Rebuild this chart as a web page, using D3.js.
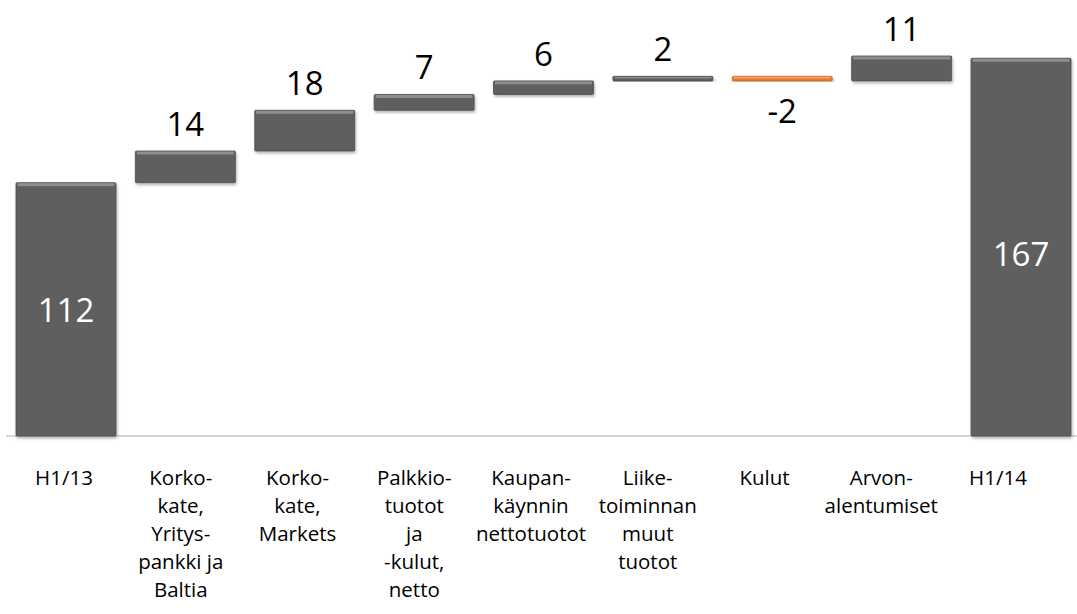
<!DOCTYPE html>
<html>
<head>
<meta charset="utf-8">
<script src="https://cdn.jsdelivr.net/npm/d3@7"></script>
<style>
  body { margin: 0; background: #fff; }
  svg { display: block; font-family: "Open Sans", "DejaVu Sans", sans-serif; }
</style>
</head>
<body>
<div id="chart"></div>
<script>

// categories (label lines), values and kind of each bar
let categories = ["H1/13", "Korko-kate", "Korko-kate-m", "Palkkio", "Kaupan", "Liike", "Kulut", "Arvon", "H1/14"];
let labelLines = [
    ["H1/13"],
    ["Korko-", "kate,", "Yritys-", "pankki ja", "Baltia"],
    ["Korko-", "kate,", "Markets"],
    ["Palkkio-", "tuotot", "ja", "-kulut,", "netto"],
    ["Kaupan-", "käynnin", "nettotuotot"],
    ["Liike-", "toiminnan", "muut", "tuotot"],
    ["Kulut"],
    ["Arvon-", "alentumiset"],
    ["H1/14"]
];
let values = [112, 14, 18, 7, 6, 2, -2, 11, 167];
let kinds = ["total", "delta", "delta", "delta", "delta", "delta", "delta", "delta", "total"];

let width = 1077, height = 614;

let svg = d3.select("#chart")
            .append("svg")
                .attr("width", width)
                .attr("height", height);

let defs = svg.append("defs");
let shadow = defs.append("filter").attr("id", "shadow")
    .attr("x", "-10%").attr("y", "-10%").attr("width", "120%").attr("height", "130%");
shadow.append("feDropShadow")
    .attr("dx", 1).attr("dy", 2).attr("stdDeviation", 1.5)
    .attr("flood-color", "#000").attr("flood-opacity", 0.3);

let x = d3.scaleBand().domain(categories).range([16, 1071]).paddingInner(0.1625).paddingOuter(0);
let xLabel = d3.scalePoint().domain(categories).range([64, 998]);
let y = d3.scaleLinear().domain([0, 168]).range([436, 56]);

// waterfall start / end for each bar
let running = 0;
let bars = values.map((v, i) => {
    let start, end;
    if (kinds[i] === "total") { start = 0; end = v; running = v; }
    else { start = running; end = running + v; running = end; }
    return { cat: categories[i], value: v, kind: kinds[i], start: start, end: end };
});

// baseline
svg.append("line")
    .attr("x1", 6).attr("x2", width)
    .attr("y1", y(0)).attr("y2", y(0))
    .attr("stroke", "#c8c8c8")
    .attr("stroke-width", 1.5);

let barG = svg.append("g").selectAll("g").data(bars).enter().append("g");

barG.append("rect")
    .attr("x", d => x(d.cat))
    .attr("y", d => y(Math.max(d.start, d.end)))
    .attr("width", x.bandwidth())
    .attr("height", d => Math.abs(y(d.start) - y(d.end)))
    .attr("rx", 1)
    .attr("fill", d => d.value < 0 ? "#e8792d" : "#5e5e5e")
    .attr("stroke", d => d.value < 0 ? "#d06a22" : "#4e4e4e")
    .attr("stroke-width", 0.8)
    .attr("filter", "url(#shadow)");

// bevel highlight at the top edge
barG.append("rect")
    .attr("x", d => x(d.cat) + 1.5)
    .attr("y", d => y(Math.max(d.start, d.end)) + 0.5)
    .attr("width", x.bandwidth() - 3)
    .attr("height", d => Math.min(3, Math.abs(y(d.start) - y(d.end)) / 3))
    .attr("fill", d => d.value < 0 ? "#f5a36a" : "#8e8e8e");

// value labels
svg.append("g").selectAll("text").data(bars).enter()
    .append("text")
        .attr("x", d => x(d.cat) + x.bandwidth() / 2)
        .attr("y", d => {
            if (d.kind === "total") return y(d.end * 0.45);
            if (d.value < 0) return y(d.end) + 42;
            return y(d.end) - 15;
        })
        .attr("text-anchor", "middle")
        .attr("font-size", "33px")
        .attr("fill", d => d.kind === "total" ? "#fff" : "#000")
        .text(d => d.value);

// category labels
let labels = svg.append("g").selectAll("text").data(categories).enter()
    .append("text")
        .attr("x", d => xLabel(d))
        .attr("y", 485)
        .attr("text-anchor", "middle")
        .attr("font-size", "20.5px")
        .attr("fill", "#000");

labels.each(function(d, i) {
    let t = d3.select(this);
    labelLines[i].forEach((line, j) => {
        t.append("tspan")
            .attr("x", xLabel(d))
            .attr("y", 485 + j * 28)
            .text(line);
    });
});

</script>
</body>
</html>
